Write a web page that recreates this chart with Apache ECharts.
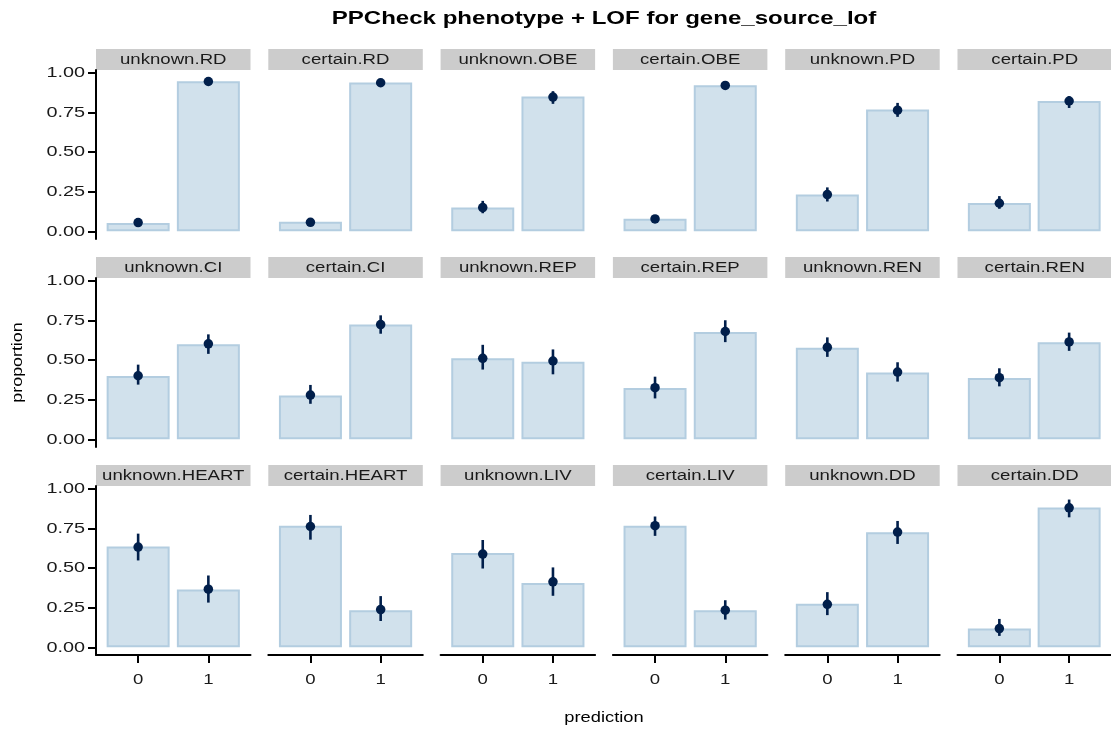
<!DOCTYPE html>
<html>
<head>
<meta charset="utf-8">
<script src="https://cdn.jsdelivr.net/npm/echarts@6/dist/echarts.min.js"></script>
<style>
  html, body { margin: 0; padding: 0; background: #fff; }
  #chart { width: 1111px; height: 731px; }
</style>
</head>
<body>
<div id="chart"></div>
<script>
// facet labels, row by row
const facets = [
  "unknown.RD", "certain.RD", "unknown.OBE", "certain.OBE", "unknown.PD", "certain.PD",
  "unknown.CI", "certain.CI", "unknown.REP", "certain.REP", "unknown.REN", "certain.REN",
  "unknown.HEART", "certain.HEART", "unknown.LIV", "certain.LIV", "unknown.DD", "certain.DD"
];
const categories = [0, 1];
const yTicks = [0, 0.25, 0.5, 0.75, 1];

// observed proportions (bars)
const obs0 = [0.053, 0.061, 0.150, 0.079, 0.232, 0.178, 0.400, 0.276, 0.511, 0.323, 0.578, 0.387, 0.636, 0.766, 0.595, 0.766, 0.274, 0.118];
const obs1 = [0.947, 0.939, 0.850, 0.921, 0.768, 0.822, 0.600, 0.724, 0.489, 0.677, 0.422, 0.613, 0.364, 0.234, 0.405, 0.234, 0.726, 0.882];

// predicted (points + intervals)
const pred0 = [0.055, 0.057, 0.150, 0.078, 0.232, 0.177, 0.401, 0.279, 0.511, 0.326, 0.580, 0.389, 0.632, 0.762, 0.588, 0.767, 0.271, 0.118];
const pred1 = [0.945, 0.937, 0.847, 0.920, 0.764, 0.822, 0.602, 0.724, 0.494, 0.680, 0.424, 0.614, 0.367, 0.238, 0.413, 0.234, 0.727, 0.880];
const lo0 = [0.040, 0.045, 0.114, 0.065, 0.188, 0.142, 0.345, 0.224, 0.440, 0.258, 0.520, 0.334, 0.548, 0.679, 0.497, 0.703, 0.203, 0.072];
const hi0 = [0.070, 0.070, 0.192, 0.092, 0.277, 0.222, 0.471, 0.343, 0.596, 0.395, 0.643, 0.448, 0.717, 0.835, 0.677, 0.825, 0.348, 0.179];
const lo1 = [0.928, 0.922, 0.804, 0.905, 0.722, 0.778, 0.539, 0.666, 0.410, 0.613, 0.364, 0.558, 0.282, 0.166, 0.325, 0.175, 0.652, 0.820];
const hi1 = [0.966, 0.952, 0.884, 0.935, 0.810, 0.853, 0.662, 0.782, 0.567, 0.751, 0.486, 0.673, 0.453, 0.323, 0.504, 0.297, 0.797, 0.932];

const FONT = "Liberation Sans, Arial, Helvetica, sans-serif";
const NCOL = 6;
const PANEL_W = 154.5;
const PANEL_H = 169;
const COL_STEP = 172.3;
const ROW_STEP = 208;
const LEFT0 = 96;
const TOP0 = 70;
const STRIP_H = 21;
const TICK_LEN = 8;

const chart = echarts.init(document.getElementById("chart"), null, { renderer: "canvas" });

const grids = [];
const xAxes = [];
const yAxes = [];
const series = [];
const graphics = [];

facets.forEach((name, i) => {
  const r = Math.floor(i / NCOL);
  const c = i % NCOL;
  const left = LEFT0 + c * COL_STEP;
  const top = TOP0 + r * ROW_STEP;
  const bottomRow = r === 2;
  const firstCol = c === 0;

  grids.push({ left: left, top: top, width: PANEL_W, height: PANEL_H, containLabel: false });

  xAxes.push({
    gridIndex: i,
    type: "value",
    min: -0.6,
    max: 1.6,
    show: bottomRow,
    axisLine: { show: true, onZero: false, lineStyle: { color: "#000", width: 2 } },
    axisTick: { show: true, length: TICK_LEN, customValues: categories, lineStyle: { color: "#000", width: 2 } },
    axisLabel: { show: false },
    splitLine: { show: false }
  });

  yAxes.push({
    gridIndex: i,
    type: "value",
    min: -0.0485,
    max: 1.0175,
    show: firstCol,
    axisLine: { show: true, onZero: false, lineStyle: { color: "#000", width: 2 } },
    axisTick: { show: true, length: TICK_LEN, customValues: yTicks, lineStyle: { color: "#000", width: 2 } },
    axisLabel: { show: false },
    splitLine: { show: false }
  });

  series.push({
    type: "bar",
    xAxisIndex: i,
    yAxisIndex: i,
    barWidth: 63,
    data: [[categories[0], obs0[i]], [categories[1], obs1[i]]],
    itemStyle: { color: "#d1e1ec", borderColor: "#b3cde0", borderWidth: 2 },
    silent: true,
    z: 1
  });

  // interval lines
  series.push({
    type: "custom",
    xAxisIndex: i,
    yAxisIndex: i,
    data: [[categories[0], lo0[i], hi0[i]], [categories[1], lo1[i], hi1[i]]],
    encode: { x: 0, y: [1, 2] },
    renderItem: (params, api) => {
      const p1 = api.coord([api.value(0), api.value(1)]);
      const p2 = api.coord([api.value(0), api.value(2)]);
      return {
        type: "line",
        shape: { x1: p1[0], y1: p1[1], x2: p2[0], y2: p2[1] },
        style: { stroke: "#011f4b", lineWidth: 2.6 }
      };
    },
    silent: true,
    z: 2
  });

  series.push({
    type: "scatter",
    xAxisIndex: i,
    yAxisIndex: i,
    symbolSize: 9.5,
    data: [[categories[0], pred0[i]], [categories[1], pred1[i]]],
    itemStyle: { color: "#011f4b", opacity: 1 },
    silent: true,
    z: 3
  });

  // facet strip
  graphics.push({
    type: "rect",
    shape: { x: left, y: top - STRIP_H, width: PANEL_W, height: STRIP_H },
    style: { fill: "#cccccc" },
    silent: true
  });
  graphics.push({
    type: "text",
    x: left + PANEL_W / 2,
    y: top - STRIP_H / 2 + 0.5,
    scaleX: 1.2,
    style: {
      text: name, fill: "#1a1a1a", font: "15.5px " + FONT,
      textAlign: "center", textVerticalAlign: "middle"
    },
    silent: true
  });
});

const midX = LEFT0 + (5 * COL_STEP + PANEL_W) / 2;

graphics.push({
  type: "text",
  x: midX,
  y: 19,
  scaleX: 1.3,
  style: { text: "PPCheck phenotype + LOF for gene_source_lof", fill: "#000", font: "bold 18.5px " + FONT, textAlign: "center", textVerticalAlign: "middle" },
  silent: true
});
graphics.push({
  type: "text",
  x: 18,
  y: TOP0 + (2 * ROW_STEP + PANEL_H) / 2,
  rotation: Math.PI / 2,
  scaleX: 1.15,
  style: { text: "proportion", fill: "#000", font: "15.5px " + FONT, textAlign: "center", textVerticalAlign: "middle" },
  silent: true
});
graphics.push({
  type: "text",
  x: midX,
  y: 718,
  scaleX: 1.18,
  style: { text: "prediction", fill: "#000", font: "15.5px " + FONT, textAlign: "center", textVerticalAlign: "middle" },
  silent: true
});

const option = {
  animation: false,
  grid: grids,
  xAxis: xAxes,
  yAxis: yAxes,
  series: series,
  graphic: graphics
};

chart.setOption(option);

// tick labels placed through the axes' own scales, drawn wider like the reference
const tickLabels = [];
facets.forEach((name, i) => {
  const r = Math.floor(i / NCOL);
  const c = i % NCOL;
  if (c === 0) {
    yTicks.forEach((t) => {
      const py = chart.convertToPixel({ yAxisIndex: i }, t);
      tickLabels.push({
        type: "text",
        x: LEFT0 - TICK_LEN - 3,
        y: py,
        scaleX: 1.28,
        style: { text: t.toFixed(2), fill: "#1a1a1a", font: "15.5px " + FONT, textAlign: "right", textVerticalAlign: "middle" },
        silent: true
      });
    });
  }
  if (r === 2) {
    categories.forEach((k) => {
      const px = chart.convertToPixel({ xAxisIndex: i }, k);
      tickLabels.push({
        type: "text",
        x: px,
        y: TOP0 + 2 * ROW_STEP + PANEL_H + TICK_LEN + 17,
        scaleX: 1.2,
        style: { text: String(k), fill: "#1a1a1a", font: "15.5px " + FONT, textAlign: "center", textVerticalAlign: "middle" },
        silent: true
      });
    });
  }
});

chart.setOption({ graphic: graphics.concat(tickLabels) });
window.addEventListener("resize", () => chart.resize());
</script>
</body>
</html>
